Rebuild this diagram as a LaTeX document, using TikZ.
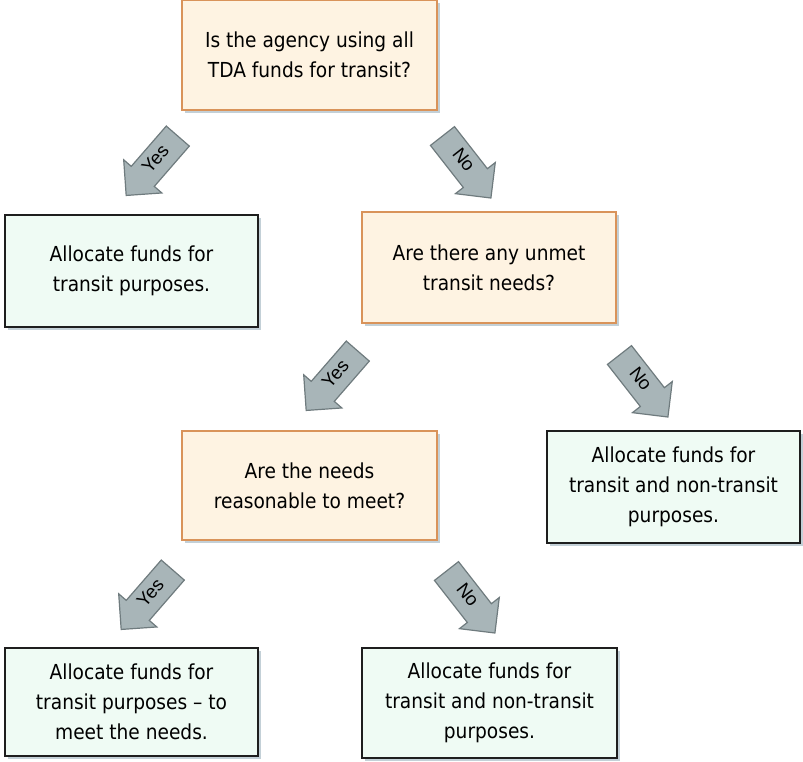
\documentclass[tikz,border=0pt]{standalone}
\usepackage{fontspec}
\setmainfont{DejaVu Sans Condensed}
\newfontfamily\arrowfont{Liberation Sans}
\usetikzlibrary{shapes.arrows,shadows}
\definecolor{qborder}{HTML}{D9935A}
\definecolor{qfill}{HTML}{FEF3E2}
\definecolor{afill}{HTML}{EFFBF4}
\definecolor{aborder}{HTML}{1E1E1E}
\definecolor{arrfill}{HTML}{A8B5B8}
\definecolor{arrdraw}{HTML}{6F7B7E}
\definecolor{shadowc}{HTML}{A9BCC6}
\tikzset{
  box/.style={rectangle, line width=2pt, align=center,
    font=\fontsize{15.5}{22.5}\selectfont, inner sep=0pt,
    drop shadow={shadow xshift=2.2pt, shadow yshift=-2.2pt, fill=shadowc, opacity=0.7}},
  qbox/.style={box, draw=qborder, fill=qfill},
  abox/.style={box, draw=aborder, fill=afill},
  blockarrow/.style={single arrow, draw=arrdraw, fill=arrfill, line width=0.9pt,
    font=\arrowfont\fontsize{14}{14}\selectfont,
    text height=7.5pt, text depth=1.5pt, inner xsep=2pt, inner ysep=6.5pt,
    single arrow head extend=7.5pt, minimum height=59pt, anchor=center},
  yesarrow/.style={blockarrow, rotate=49, shape border rotate=180},
  noarrow/.style={blockarrow, rotate=-52}
}
\begin{document}
\begin{tikzpicture}[x=0.75pt, y=-0.75pt]
\useasboundingbox (0,0) rectangle (803,761);
\node[qbox, minimum width=191.25pt, minimum height=82.5pt] (q1) at (309.5,55)
  {Is the agency using all\\TDA funds for transit?};
\node[abox, minimum width=189.75pt, minimum height=84pt] (a1) at (131.5,271)
  {Allocate funds for\\transit purposes.};
\node[qbox, minimum width=190.5pt, minimum height=83.25pt] (q2) at (489,267.5)
  {Are there any unmet\\transit needs?};
\node[abox, minimum width=189.75pt, minimum height=84pt] (a2) at (673.5,487)
  {Allocate funds for\\transit and non-transit\\purposes.};
\node[qbox, minimum width=191.25pt, minimum height=81.75pt] (q3) at (309.5,485.5)
  {Are the needs\\reasonable to meet?};
\node[abox, minimum width=189.75pt, minimum height=81pt] (a3) at (131.5,702)
  {Allocate funds for\\transit purposes -- to\\meet the needs.};
\node[abox, minimum width=191.25pt, minimum height=82.5pt] (a4) at (489.5,703)
  {Allocate funds for\\transit and non-transit\\purposes.};
\node[yesarrow] (y1) at (157,160) {Yes};
\node[noarrow] (n1) at (462,161) {No};
\node[yesarrow] (y2) at (337,375) {Yes};
\node[noarrow] (n2) at (639,380) {No};
\node[yesarrow] (y3) at (152,594) {Yes};
\node[noarrow] (n3) at (466,596) {No};
\end{tikzpicture}
\end{document}
